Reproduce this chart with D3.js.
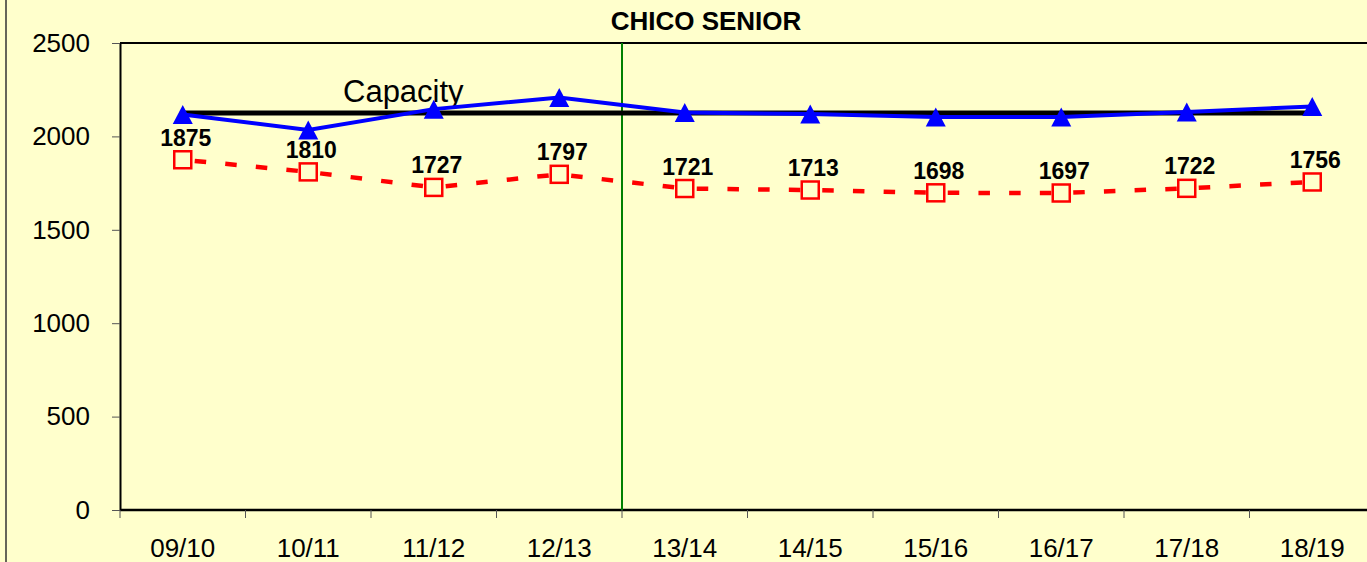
<!DOCTYPE html>
<html>
  <head>
    <meta charset="utf-8">
    <script src="https://d3js.org/d3.v7.min.js"></script>
    <title>Chico Senior</title>
    <style>
      body { margin: 0; background: #ffffcc; }
      text { font-family: "Liberation Sans", Arial, sans-serif; }
    </style>
  </head>
  <body>
    <div id="chart"></div>
    <script>
      // chart values
      const categories = ["09/10", "10/11", "11/12", "12/13", "13/14", "14/15", "15/16", "16/17", "17/18", "18/19"];
      const capacity = [2125, 2125, 2125, 2125, 2125, 2125, 2125, 2125, 2125, 2125];
      const enrollment = [2117, 2034, 2146, 2208, 2128, 2120, 2104, 2104, 2131, 2160];
      const projected = [1875, 1810, 1727, 1797, 1721, 1713, 1698, 1697, 1722, 1756];
      const yTicks = [0, 500, 1000, 1500, 2000, 2500];
      const splitAt = "13/14"; // green marker line sits before this year

      const W = 1367, H = 562;
      const plotLeft = 120, plotTop = 43, plotBottom = 510;

      const svg = d3.select("#chart").append("svg")
        .attr("width", W)
        .attr("height", H);

      svg.append("rect").attr("width", W).attr("height", H).attr("fill", "#ffffcc");

      // outer chart border (only left edge shows)
      svg.append("line")
        .attr("x1", 6).attr("x2", 6).attr("y1", 0).attr("y2", H)
        .attr("stroke", "#333").attr("stroke-width", 1.5);

      const x = d3.scaleBand().domain(categories).range([plotLeft, plotLeft + 125.5 * categories.length]);
      const y = d3.scaleLinear().domain([0, 2500]).range([plotBottom, plotTop]);
      const cx = d => x(d) + x.bandwidth() / 2;

      // title
      svg.append("text")
        .attr("x", 706).attr("y", 30)
        .attr("text-anchor", "middle")
        .attr("font-size", 26).attr("font-weight", "bold")
        .text("CHICO SENIOR");

      // plot frame top
      svg.append("line")
        .attr("x1", plotLeft).attr("x2", W).attr("y1", plotTop).attr("y2", plotTop)
        .attr("stroke", "#000").attr("stroke-width", 2);

      // y axis
      const yAxis = svg.append("g")
        .attr("transform", `translate(${plotLeft},0)`)
        .call(d3.axisLeft(y).tickValues(yTicks).tickFormat(d3.format("d"))
          .tickSize(8).tickSizeOuter(0).tickPadding(22));
      yAxis.select(".domain").attr("stroke", "#000").attr("stroke-width", 2);
      yAxis.selectAll(".tick line").attr("stroke", "#555");
      yAxis.selectAll(".tick text")
        .attr("font-size", 26)
        .attr("font-family", "Liberation Sans, Arial, sans-serif")
        .attr("fill", "#000");

      // x axis
      svg.append("line")
        .attr("x1", plotLeft).attr("x2", W).attr("y1", plotBottom).attr("y2", plotBottom)
        .attr("stroke", "#000").attr("stroke-width", 2.5);
      svg.selectAll(".xtick")
        .data(categories)
        .enter().append("line")
        .attr("class", "xtick")
        .attr("x1", d => x(d)).attr("x2", d => x(d))
        .attr("y1", plotBottom).attr("y2", plotBottom + 8)
        .attr("stroke", "#555");
      svg.selectAll(".xlabel")
        .data(categories)
        .enter().append("text")
        .attr("class", "xlabel")
        .attr("x", cx).attr("y", 557)
        .attr("text-anchor", "middle")
        .attr("font-size", 26)
        .text(d => d);

      // green divider
      svg.append("line")
        .attr("x1", x(splitAt)).attr("x2", x(splitAt))
        .attr("y1", plotTop).attr("y2", plotBottom)
        .attr("stroke", "#008000").attr("stroke-width", 2);

      // capacity line
      const line = d3.line().x(d => cx(d.c)).y(d => y(d.v));
      svg.append("path")
        .datum(categories.map((c, i) => ({ c, v: capacity[i] })))
        .attr("d", line)
        .attr("fill", "none").attr("stroke", "#000").attr("stroke-width", 5);

      svg.append("text")
        .attr("x", 343).attr("y", 102)
        .attr("font-size", 31)
        .text("Capacity");

      // enrollment (blue triangles)
      const blue = categories.map((c, i) => ({ c, v: enrollment[i] }));
      svg.append("path")
        .datum(blue)
        .attr("d", line)
        .attr("fill", "none").attr("stroke", "#0000ff").attr("stroke-width", 4);
      svg.selectAll(".tri")
        .data(blue)
        .enter().append("path")
        .attr("class", "tri")
        .attr("d", d => {
          const px = cx(d.c), py = y(d.v);
          return `M${px},${py - 9.5}L${px + 10},${py + 9.5}L${px - 10},${py + 9.5}Z`;
        })
        .attr("fill", "#0000ff");

      // projected (red dashed, hollow squares), dash pattern restarts each segment
      const red = categories.map((c, i) => ({ c, v: projected[i] }));
      svg.selectAll(".seg")
        .data(d3.pairs(red))
        .enter().append("path")
        .attr("class", "seg")
        .attr("d", d => line(d))
        .attr("fill", "none")
        .attr("stroke", "#ff0000").attr("stroke-width", 4.5)
        .attr("stroke-dasharray", "11.5,19.2")
        .attr("stroke-dashoffset", 18.7);
      svg.selectAll(".sq")
        .data(red)
        .enter().append("rect")
        .attr("class", "sq")
        .attr("x", d => cx(d.c) - 8.5).attr("y", d => y(d.v) - 8.5)
        .attr("width", 17).attr("height", 17)
        .attr("fill", "none").attr("stroke", "#ff0000").attr("stroke-width", 2.5);
      svg.selectAll(".lbl")
        .data(red)
        .enter().append("text")
        .attr("class", "lbl")
        .attr("x", d => cx(d.c) + 3).attr("y", d => y(d.v) - 14)
        .attr("text-anchor", "middle")
        .attr("font-size", 23).attr("font-weight", "bold")
        .text(d => d.v);
    </script>
  </body>
</html>
